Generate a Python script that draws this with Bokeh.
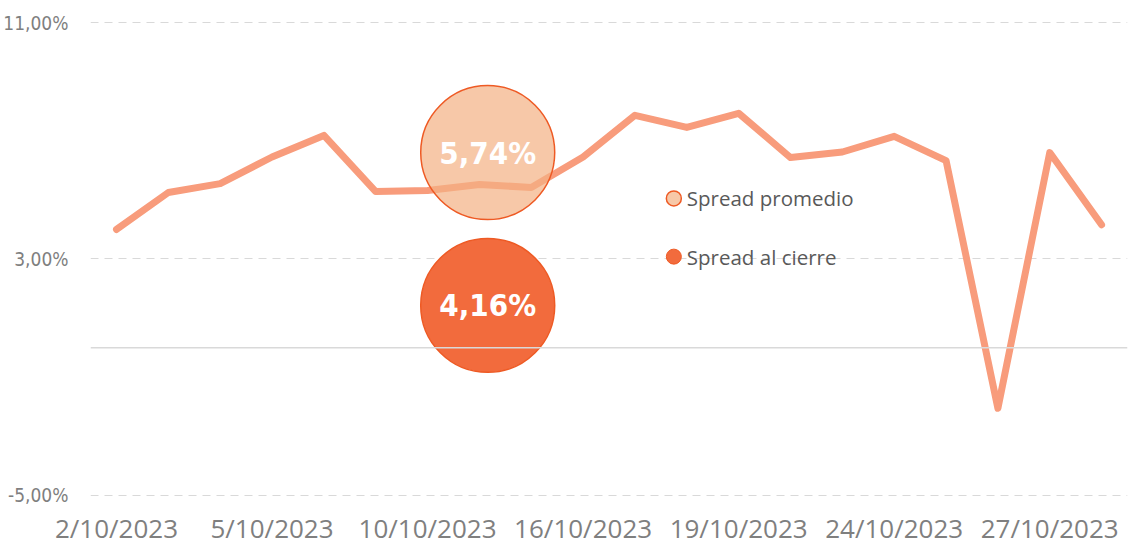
from bokeh.plotting import figure
from bokeh.models import Range1d, FixedTicker, Span
from bokeh.core.properties import value
from bokeh.embed import file_html
from bokeh.resources import INLINE

# ---- data ----
dates = ["2/10/2023", "3/10/2023", "4/10/2023", "5/10/2023", "6/10/2023",
         "9/10/2023", "10/10/2023", "11/10/2023", "12/10/2023", "16/10/2023",
         "17/10/2023", "18/10/2023", "19/10/2023", "20/10/2023", "23/10/2023",
         "24/10/2023", "25/10/2023", "26/10/2023", "27/10/2023", "30/10/2023"]
spread = [4.00, 5.25, 5.55, 6.45, 7.18, 5.28, 5.32, 5.52, 5.42, 6.45,
          7.86, 7.45, 7.93, 6.43, 6.62, 7.15, 6.33, -2.05, 6.60, 4.16]
y_ticks = [-5, 3, 11]
y_tick_labels = ["-5,00%", "3,00%", "11,00%"]
x_tick_idx = [0, 3, 6, 9, 12, 15, 18]
spread_promedio = 5.74
spread_cierre = 4.16
legend_labels = ["Spread promedio", "Spread al cierre"]

# ---- styles ----
LINE_C = "#F89C7C"
LIGHT_FILL = "#F4B183"
DARK_FILL = "#F26B3D"
BORDER = "#EE5A24"
GRID_C = "#D9D9D9"
TXT_C = "#7F7F7F"
NARROW = "DejaVu Sans Condensed"

x = list(range(len(dates)))

p = figure(width=1130, height=549,
           min_border_left=90, min_border_right=3, min_border_top=16, min_border_bottom=52,
           output_backend="svg", toolbar_location=None,
           x_range=Range1d(-0.5015, 19.5), y_range=Range1d(-5.068, 11.203))
p.outline_line_color = None
p.background_fill_color = "white"
p.border_fill_color = "white"

# grid
p.xgrid.visible = False
p.ygrid.ticker = FixedTicker(ticks=y_ticks)
p.ygrid.grid_line_color = GRID_C
p.ygrid.grid_line_dash = "8 6"
p.ygrid.grid_line_width = 1
p.add_layout(Span(location=0, dimension="width", line_color=GRID_C, line_width=1.5))

# axes
p.yaxis.ticker = FixedTicker(ticks=y_ticks)
p.yaxis.major_label_overrides = {t: l for t, l in zip(y_ticks, y_tick_labels)}
p.yaxis.axis_line_color = None
p.yaxis.major_tick_line_color = None
p.yaxis.minor_tick_line_color = None
p.yaxis.major_tick_out = 0
p.yaxis.major_tick_in = 0
p.yaxis.major_label_standoff = 22
p.yaxis.major_label_text_font = NARROW
p.yaxis.major_label_text_font_size = "19px"
p.yaxis.major_label_text_color = TXT_C

p.xaxis.ticker = FixedTicker(ticks=x_tick_idx)
p.xaxis.major_label_overrides = {i: dates[i] for i in x_tick_idx}
p.xaxis.axis_line_color = None
p.xaxis.major_tick_line_color = None
p.xaxis.minor_tick_line_color = None
p.xaxis.major_tick_out = 0
p.xaxis.major_tick_in = 0
p.xaxis.major_label_standoff = 12
p.xaxis.major_label_text_font = "Open Sans"
p.xaxis.major_label_text_font_size = "26px"
p.xaxis.major_label_text_color = TXT_C

# data line
p.line(x=x, y=spread, line_color=LINE_C, line_width=7, line_cap="round", line_join="round")

# bubbles (annotation positions)
bx = 7.16
p.scatter(x=[bx], y=[6.60], size=134, marker="circle",
          fill_color=LIGHT_FILL, fill_alpha=0.7, line_color=BORDER, line_width=1.5)
p.scatter(x=[bx], y=[1.43], size=134, marker="circle",
          fill_color=DARK_FILL, fill_alpha=1.0, line_color=BORDER, line_width=1.5)

fmt = lambda v: f"{v:.2f}".replace(".", ",") + "%"
p.text(x=[bx, bx], y=[6.60, 1.43], text=[fmt(spread_promedio), fmt(spread_cierre)],
       text_font=value(NARROW), text_font_style="bold", text_font_size="31px",
       text_color="white", text_align="center", text_baseline="middle")

# legend
lx = 10.75
p.scatter(x=[lx], y=[5.05], size=15, marker="circle",
          fill_color=LIGHT_FILL, fill_alpha=0.7, line_color=BORDER, line_width=1.5)
p.scatter(x=[lx], y=[3.08], size=15, marker="circle",
          fill_color=DARK_FILL, line_color=BORDER, line_width=1)
p.text(x=[11.0, 11.0], y=[5.05, 3.08], text=legend_labels,
       text_font=value("Open Sans"), text_font_size="20.5px", text_color="#595959",
       text_align="left", text_baseline="middle")

open("out.html", "w").write(file_html(p, INLINE))
